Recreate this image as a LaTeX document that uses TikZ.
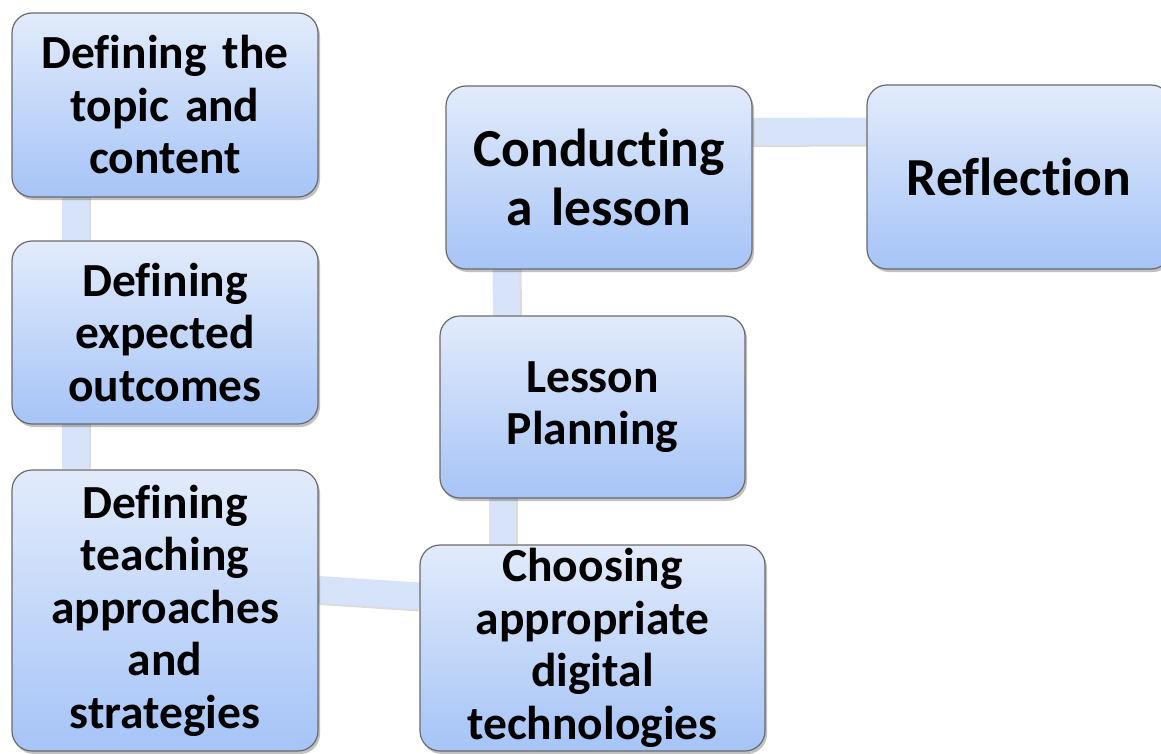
\documentclass[tikz,border=0pt]{standalone}
\usepackage{fontspec}
\setmainfont[Ligatures=NoCommon]{Carlito}
\usetikzlibrary{shadows,backgrounds}
\definecolor{boxtop}{HTML}{E2EBFB}
\definecolor{boxbot}{HTML}{A6C4F7}
\definecolor{boxline}{HTML}{6A6A6A}
\definecolor{band}{HTML}{D7E3F8}
\tikzset{
  stage/.style={draw=boxline, line width=1.2pt, rounded corners=20pt,
    top color=boxtop, bottom color=boxbot, align=center,
    font=\bfseries\fontsize{47.5}{52.5}\selectfont, text=black, inner sep=0pt,
    drop shadow={shadow xshift=2pt, shadow yshift=-3pt, opacity=0.35, fill=black!70}},
  bigstage/.style={stage, font=\bfseries\fontsize{53.5}{59}\selectfont},
  link/.style={draw=band, line width=27pt},
  linkshade/.style={draw=black!40, line width=27pt, opacity=0.35}
}
\begin{document}
\begin{tikzpicture}[x=1pt,y=-1pt]
\useasboundingbox (0,0) rectangle (1161,754);

\node[stage, minimum width=306pt, minimum height=184pt, text width=300pt] (topic) at (165,105)
  {Defining the\\topic and\\content};
\node[stage, minimum width=306pt, minimum height=183pt, text width=300pt] (outcomes) at (165,332.5)
  {Defining\\expected\\outcomes};
\node[stage, minimum width=306pt, minimum height=281pt, text width=300pt] (approach) at (165,610.5)
  {Defining\\teaching\\approaches\\and\\strategies};
\node[stage, minimum width=345pt, minimum height=206pt, text width=340pt] (digital) at (592.5,648)
  {Choosing\\appropriate\\digital\\technologies};
\node[stage, minimum width=305pt, minimum height=182pt, text width=300pt] (plan) at (592.5,407)
  {Lesson\\Planning};
\node[bigstage, minimum width=306pt, minimum height=183pt, text width=300pt] (conduct) at (599,177.5)
  {Conducting\\a lesson};
\node[bigstage, minimum width=304pt, minimum height=184pt, text width=300pt] (reflect) at (1019,177)
  {Reflection};

\begin{scope}[on background layer]
  % soft shade under each band
  \draw[linkshade] ([xshift=-88pt,yshift=2pt]topic.south) -- ([xshift=-88pt]outcomes.north);
  \draw[linkshade] ([xshift=-88pt,yshift=2pt]outcomes.south) -- ([xshift=-88pt]approach.north);
  \draw[linkshade] ([xshift=2pt,yshift=19pt]approach.east) -- ([yshift=50pt]digital.west);
  \draw[linkshade] ([xshift=-88pt,yshift=2pt]plan.south) -- ([xshift=-88pt]digital.north);
  \draw[linkshade] ([xshift=-91pt,yshift=2pt]conduct.south) -- ([xshift=-84pt]plan.north);
  \draw[linkshade] ([yshift=44pt]conduct.east) -- ([yshift=44pt]reflect.west);
  % bands joining the stages
  \draw[link] ([xshift=-90pt]topic.south) -- ([xshift=-90pt]outcomes.north);
  \draw[link] ([xshift=-90pt]outcomes.south) -- ([xshift=-90pt]approach.north);
  \draw[link] ([yshift=21pt]approach.east) -- ([yshift=52pt]digital.west);
  \draw[link] ([xshift=-90pt]plan.south) -- ([xshift=-90pt]digital.north);
  \draw[link] ([xshift=-93pt]conduct.south) -- ([xshift=-86pt]plan.north);
  \draw[link] ([yshift=46pt]conduct.east) -- ([yshift=46pt]reflect.west);
\end{scope}
\end{tikzpicture}
\end{document}
